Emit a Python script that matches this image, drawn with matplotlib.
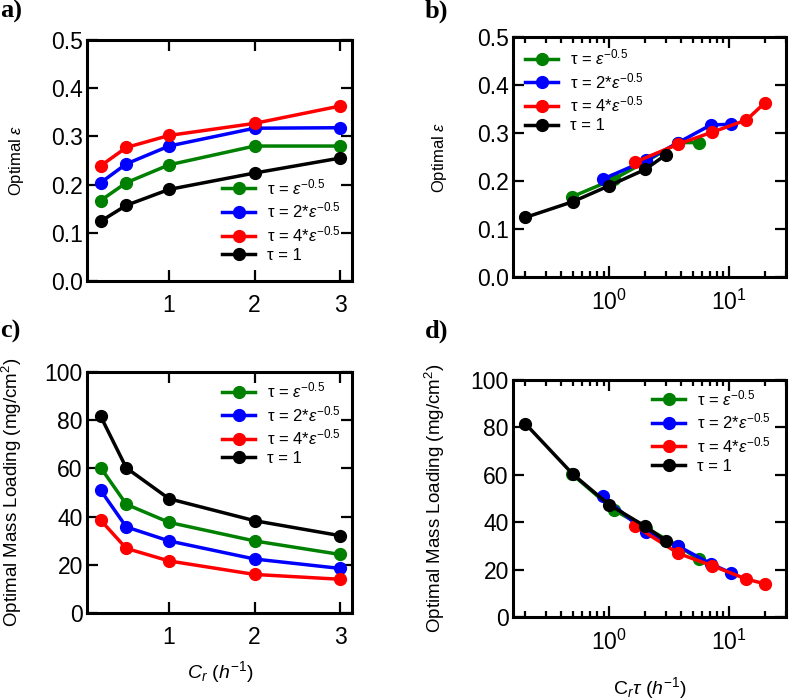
import matplotlib
matplotlib.use("Agg")
import matplotlib.pyplot as plt
from matplotlib.ticker import LogLocator, NullFormatter

plt.rcParams['font.family'] = ['Liberation Sans', 'DejaVu Sans']
plt.rcParams['mathtext.fontset'] = 'custom'
plt.rcParams['mathtext.rm'] = 'Liberation Sans'
plt.rcParams['mathtext.it'] = 'Liberation Sans:italic'
plt.rcParams['mathtext.bf'] = 'Liberation Sans:bold'

# ---- data ----
cr = [0.2, 0.5, 1, 2, 3]

eps_green = [0.167, 0.204, 0.241, 0.280, 0.280]
eps_blue = [0.204, 0.243, 0.280, 0.317, 0.318]
eps_red = [0.239, 0.277, 0.302, 0.327, 0.363]
eps_black = [0.124, 0.157, 0.190, 0.224, 0.255]

ml_green = [60.3, 45.1, 37.6, 29.9, 24.3]
ml_blue = [50.9, 35.7, 29.9, 22.4, 18.5]
ml_red = [38.5, 26.8, 21.6, 16.0, 14.0]
ml_black = [81.6, 60.2, 47.4, 38.3, 32.1]

crt_green = [0.49, 1.10, 2.04, 3.80, 5.65]
crt_blue = [0.89, 2.03, 3.78, 7.10, 10.5]
crt_red = [1.64, 3.80, 7.30, 14.0, 20.0]
crt_black = [0.2, 0.5, 1, 2, 3]

labels = [u"\u03c4 = $\\varepsilon^{-0.5}$",
          u"\u03c4 = 2*$\\varepsilon^{-0.5}$",
          u"\u03c4 = 4*$\\varepsilon^{-0.5}$",
          u"\u03c4 = 1"]
colors = ['green', 'blue', 'red', 'black']

W, H = 789, 700
fig = plt.figure(figsize=(W / 100, H / 100), dpi=100)


def rect(l, t, r, b):
    return [l / W, 1 - b / H, (r - l) / W, (b - t) / H]


ax_a = fig.add_axes(rect(87, 40, 352, 281))
ax_b = fig.add_axes(rect(513, 37, 786, 277))
ax_c = fig.add_axes(rect(87, 372, 352, 613))
ax_d = fig.add_axes(rect(513, 380, 786, 617))

LW = 2.5
MS = 8.5

series_eps = [eps_green, eps_blue, eps_red, eps_black]
series_ml = [ml_green, ml_blue, ml_red, ml_black]
series_x = [crt_green, crt_blue, crt_red, crt_black]

for ys, c, lab in zip(series_eps, colors, labels):
    ax_a.plot(cr, ys, '-o', color=c, lw=LW, ms=MS, label=lab)
for xs, ys, c, lab in zip(series_x, series_eps, colors, labels):
    ax_b.plot(xs, ys, '-o', color=c, lw=LW, ms=MS, label=lab)
for ys, c, lab in zip(series_ml, colors, labels):
    ax_c.plot(cr, ys, '-o', color=c, lw=LW, ms=MS, label=lab)
for xs, ys, c, lab in zip(series_x, series_ml, colors, labels):
    ax_d.plot(xs, ys, '-o', color=c, lw=LW, ms=MS, label=lab)

for ax in (ax_a, ax_c):
    ax.set_xlim(0.04, 3.14)
    ax.set_xticks([1, 2, 3])
for ax in (ax_b, ax_d):
    ax.set_xscale('log')
    ax.set_xlim(0.158, 30)
    ax.xaxis.set_major_locator(LogLocator(base=10, numticks=10))
    ax.xaxis.set_minor_locator(LogLocator(base=10, subs=range(2, 10), numticks=20))
    ax.xaxis.set_minor_formatter(NullFormatter())
for ax in (ax_a, ax_b):
    ax.set_ylim(0, 0.5)
    ax.set_yticks([0.0, 0.1, 0.2, 0.3, 0.4, 0.5])
    ax.set_yticklabels(['0.0', '0.1', '0.2', '0.3', '0.4', '0.5'])
for ax in (ax_c, ax_d):
    ax.set_ylim(0, 100)
    ax.set_yticks([0, 20, 40, 60, 80, 100])

for ax in (ax_a, ax_b, ax_c, ax_d):
    for s in ax.spines.values():
        s.set_linewidth(2.2)
    ax.tick_params(which='both', direction='in', top=True, right=True,
                   width=1.6, labelsize=16.5)
    ax.tick_params(which='major', length=8)
    ax.tick_params(which='minor', length=4.5)
    ax.tick_params(axis='x', which='both', pad=9)
    ax.tick_params(axis='y', which='both', pad=3)

# legends
leg_kw = dict(loc='upper left', frameon=False, fontsize=12, borderpad=0,
              borderaxespad=0, handlelength=2.0, handletextpad=0.7,
              labelspacing=0.22)
ax_a.legend(bbox_to_anchor=(0.509, 0.43), **leg_kw)
ax_b.legend(bbox_to_anchor=(0.044, 0.955), **leg_kw)
ax_c.legend(bbox_to_anchor=(0.509, 0.965), **leg_kw)
ax_d.legend(bbox_to_anchor=(0.509, 0.965), **leg_kw)

# y labels
fig.text(17 / W, 1 - 160 / H, "Optimal $\\varepsilon$", rotation=90,
         ha='center', va='center', fontsize=12)
fig.text(440 / W, 1 - 157 / H, "Optimal $\\varepsilon$", rotation=90,
         ha='center', va='center', fontsize=12)
fig.text(12 / W, 1 - 492 / H, "Optimal Mass Loading (mg/cm$^2$)", rotation=90,
         ha='center', va='center', fontsize=13.5)
fig.text(435 / W, 1 - 498 / H, "Optimal Mass Loading (mg/cm$^2$)", rotation=90,
         ha='center', va='center', fontsize=13.5)

# x labels
fig.text(220 / W, 1 - 672 / H, "$C_r\\ (h^{-1})$", ha='center', va='center',
         fontsize=14)
fig.text(650 / W, 1 - 688 / H, "C$_r\\tau\\ (h^{-1})$", ha='center', va='center',
         fontsize=14)

# panel letters
for txt, x, y in [("a)", 0, 0), ("b)", 425, 0), ("c)", 0, 320), ("d)", 425, 320)]:
    fig.text(x / W, 1 - y / H, txt, ha='left', va='top', fontsize=19,
             fontweight='bold', family='Liberation Serif')

fig.savefig("out.png", dpi=100)
